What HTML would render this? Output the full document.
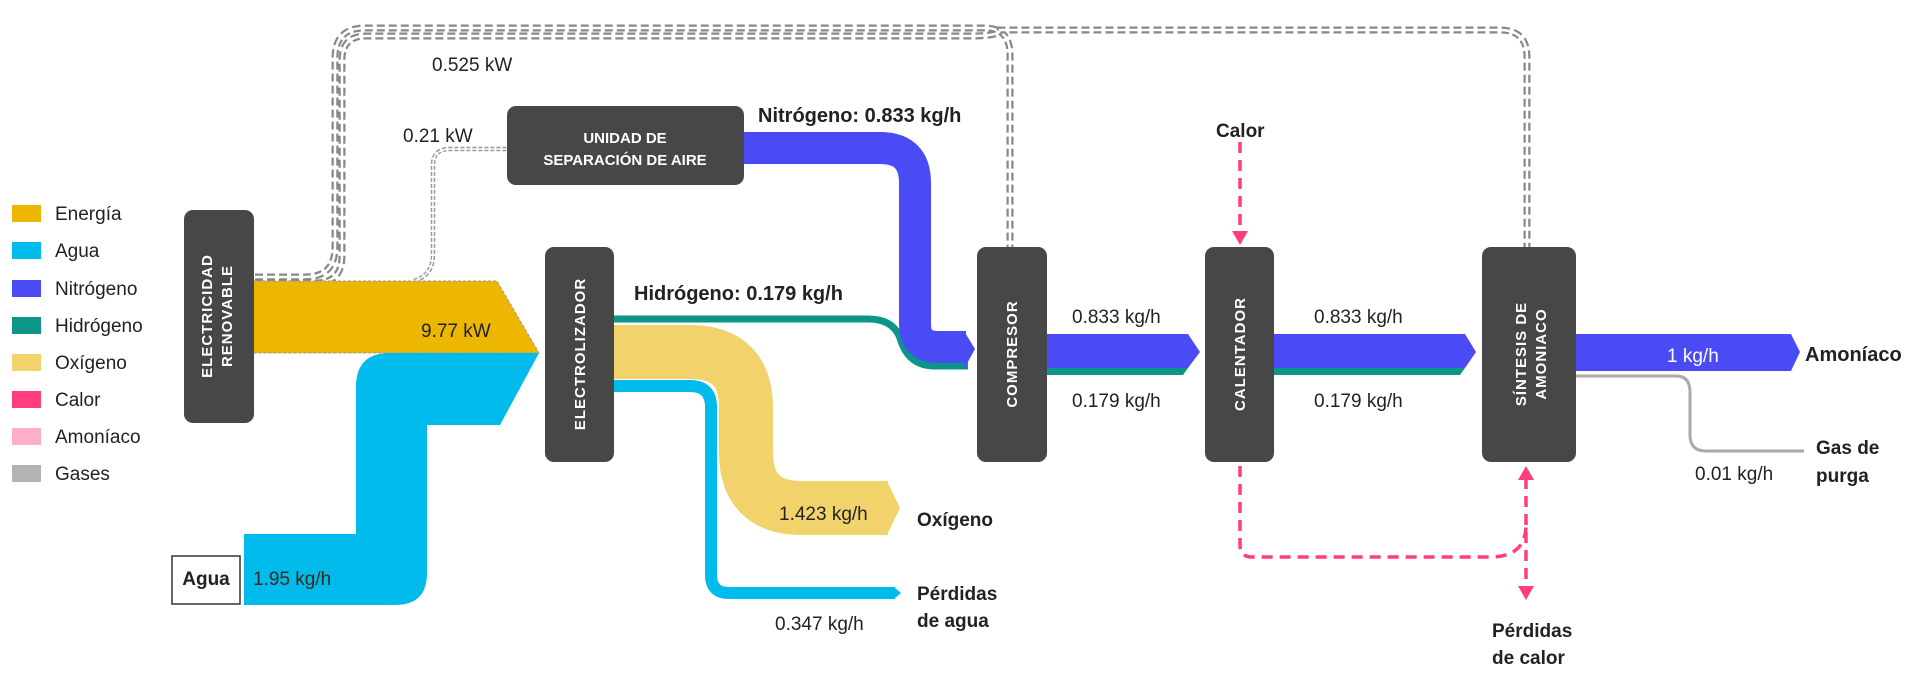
<!DOCTYPE html>
<html><head><meta charset="utf-8"><style>
html,body{margin:0;padding:0;background:#fff}
svg{display:block}
text{font-family:"Liberation Sans",sans-serif}
.l{font-size:19px;fill:#222}
.b{font-size:20px;font-weight:bold;fill:#222}
.w{font-size:15px;font-weight:bold;fill:#fff;letter-spacing:1px}
.u{font-size:14px;font-weight:bold;fill:#fff}
</style></head><body>
<svg width="1920" height="699" viewBox="0 0 1920 699" xmlns="http://www.w3.org/2000/svg">
<g>
<rect x="12" y="205" width="29" height="17" fill="#EDB600"/><text class="l" x="55" y="220">Energía</text>
<rect x="12" y="242" width="29" height="17" fill="#00BBEB"/><text class="l" x="55" y="257">Agua</text>
<rect x="12" y="280" width="29" height="17" fill="#4B4BF5"/><text class="l" x="55" y="295">Nitrógeno</text>
<rect x="12" y="317" width="29" height="17" fill="#0C968A"/><text class="l" x="55" y="332">Hidrógeno</text>
<rect x="12" y="354" width="29" height="17" fill="#F2D36B"/><text class="l" x="55" y="369">Oxígeno</text>
<rect x="12" y="391" width="29" height="17" fill="#FF3D7F"/><text class="l" x="55" y="406">Calor</text>
<rect x="12" y="428" width="29" height="17" fill="#FFB0C8"/><text class="l" x="55" y="443">Amoníaco</text>
<rect x="12" y="465" width="29" height="17" fill="#B3B3B3"/><text class="l" x="55" y="480">Gases</text>
</g>

<g fill="none">
<path d="M255,277 L305,277 Q335,277 335,247 L335,58 Q335,28 365,28 L985,28 Q1010,28 1010,55 L1010,247" stroke="#888" stroke-width="7" stroke-dasharray="8 4"/>
<path d="M255,277 L305,277 Q335,277 335,247 L335,58 Q335,28 365,28 L985,28 Q1010,28 1010,55 L1010,247" stroke="#fff" stroke-width="2.5"/>
<path d="M255,283 L315,283 Q342,283 342,256 L342,60 Q342,36 366,36 L970,36 Q1000,36 1000,30 Q1005,30 1010,30 L1500,30 Q1527,30 1527,57 L1527,247" stroke="#888" stroke-width="7" stroke-dasharray="8 4"/>
<path d="M255,283 L315,283 Q342,283 342,256 L342,60 Q342,36 366,36 L970,36 Q1000,36 1000,30 Q1005,30 1010,30 L1500,30 Q1527,30 1527,57 L1527,247" stroke="#fff" stroke-width="2.5"/>
<path d="M414,281 Q433,275 433,255 L433,165 Q433,149 450,149 L507,149" stroke="#999" stroke-width="4.5" stroke-dasharray="4 2"/>
<path d="M414,281 Q433,275 433,255 L433,165 Q433,149 450,149 L507,149" stroke="#fff" stroke-width="1.5"/>
</g>

<polygon points="253,281 497,281 539,353 253,353" fill="#EDB600" stroke="#999" stroke-width="1" stroke-dasharray="3 2"/>
<path d="M244,534 L356,534 L356,387 Q356,353 390,353 L539,353 L500,425 L427,425 L427,573 Q427,605 395,605 L244,605 Z" fill="#00BBEB"/>
<rect x="172" y="556" width="68" height="48" fill="#fff" stroke="#333" stroke-width="1.5"/>
<text class="b" x="206" y="580" text-anchor="middle" dominant-baseline="middle" style="font-size:19px">Agua</text>
<text class="l" x="253" y="585" style="fill:#3a2a1a">1.95 kg/h</text>
<text class="l" x="421" y="337" style="fill:#222">9.77 kW</text>

<path d="M614,352 L690,352 Q746,352 746,408 L746,452 Q746,508 802,508 L888,508" fill="none" stroke="#F2D36B" stroke-width="54"/>
<polygon points="887,481 900,508 887,535" fill="#F2D36B"/>
<path d="M614,386 L690,386 Q711,386 711,407 L711,575 Q711,593 729,593 L895,593" fill="none" stroke="#00BBEB" stroke-width="12"/>
<polygon points="894,587 901,593 894,599" fill="#00BBEB"/>

<path d="M614,319 L868,319 Q893,319 900,338 Q908,366 935,366 L968,366" fill="none" stroke="#0C968A" stroke-width="7"/>
<path d="M744,148 L880,148 Q915,148 915,183 L915,324 Q915,347 938,347 L966,347" fill="none" stroke="#4B4BF5" stroke-width="32"/>
<polygon points="964,331 975,349 964,369" fill="#4B4BF5"/>

<polygon points="1047,334 1188,334 1200,352 1188,368 1047,368" fill="#4B4BF5"/>
<polygon points="1047,368 1188,368 1183,375 1047,375" fill="#0C968A"/>
<polygon points="1274,334 1465,334 1476,352 1465,368 1274,368" fill="#4B4BF5"/>
<polygon points="1274,368 1465,368 1460,375 1274,375" fill="#0C968A"/>
<polygon points="1576,334 1791,334 1800,352 1791,371 1576,371" fill="#4B4BF5"/>
<text x="1667" y="362" style="font-size:19px;fill:#fff">1 kg/h</text>
<text class="b" x="1805" y="361" style="font-size:20px">Amoníaco</text>
<path d="M1576,376 L1676,376 Q1690,376 1690,392 L1690,435 Q1690,451 1706,451 L1804,451" fill="none" stroke="#AAA" stroke-width="3"/>
<text class="b" x="1816" y="454" style="font-size:19px">Gas de</text>
<text class="b" x="1816" y="482" style="font-size:19px">purga</text>
<text class="l" x="1695" y="480">0.01 kg/h</text>

<g fill="none" stroke="#FF3D7F" stroke-width="3.5" stroke-dasharray="11 7">
<path d="M1240,142 L1240,232"/>
<path d="M1240,466 L1240,545 Q1240,557 1252,557 L1490,557 Q1526,557 1526,525"/>
<path d="M1526,478 L1526,587"/>
</g>
<polygon points="1232,231 1248,231 1240,245" fill="#FF3D7F"/>
<polygon points="1518,480 1534,480 1526,466" fill="#FF3D7F"/>
<polygon points="1518,586 1534,586 1526,600" fill="#FF3D7F"/>
<text class="b" x="1216" y="137" style="font-size:19px">Calor</text>
<text class="b" x="1492" y="637" style="font-size:19px">Pérdidas</text>
<text class="b" x="1492" y="664" style="font-size:19px">de calor</text>

<rect x="184" y="210" width="70" height="213" rx="9" fill="#474747"/>
<text class="w" transform="translate(212,316) rotate(-90)" text-anchor="middle">ELECTRICIDAD</text>
<text class="w" transform="translate(232,316) rotate(-90)" text-anchor="middle">RENOVABLE</text>
<rect x="545" y="247" width="69" height="215" rx="9" fill="#474747"/>
<text class="w" transform="translate(585,354) rotate(-90)" text-anchor="middle">ELECTROLIZADOR</text>
<rect x="507" y="106" width="237" height="79" rx="9" fill="#474747"/>
<text class="u" x="625" y="143" text-anchor="middle" style="font-size:15px">UNIDAD DE</text>
<text class="u" x="625" y="165" text-anchor="middle" style="font-size:15px">SEPARACIÓN DE AIRE</text>
<rect x="977" y="247" width="70" height="215" rx="9" fill="#474747"/>
<text class="w" transform="translate(1017,354) rotate(-90)" text-anchor="middle">COMPRESOR</text>
<rect x="1205" y="247" width="69" height="215" rx="9" fill="#474747"/>
<text class="w" transform="translate(1245,354) rotate(-90)" text-anchor="middle">CALENTADOR</text>
<rect x="1482" y="247" width="94" height="215" rx="9" fill="#474747"/>
<text class="w" transform="translate(1526,354) rotate(-90)" text-anchor="middle">SÍNTESIS DE</text>
<text class="w" transform="translate(1546,354) rotate(-90)" text-anchor="middle">AMONIACO</text>

<text class="l" x="432" y="71">0.525 kW</text>
<text class="l" x="403" y="142">0.21 kW</text>
<text class="b" x="758" y="122">Nitrógeno: 0.833 kg/h</text>
<text class="b" x="634" y="300">Hidrógeno: 0.179 kg/h</text>
<text class="l" x="779" y="520">1.423 kg/h</text>
<text class="b" x="917" y="526" style="font-size:19px">Oxígeno</text>
<text class="b" x="917" y="600" style="font-size:19px">Pérdidas</text>
<text class="b" x="917" y="627" style="font-size:19px">de agua</text>
<text class="l" x="775" y="630">0.347 kg/h</text>
<text class="l" x="1072" y="323">0.833 kg/h</text>
<text class="l" x="1072" y="407">0.179 kg/h</text>
<text class="l" x="1314" y="323">0.833 kg/h</text>
<text class="l" x="1314" y="407">0.179 kg/h</text>
</svg>
</body></html>
